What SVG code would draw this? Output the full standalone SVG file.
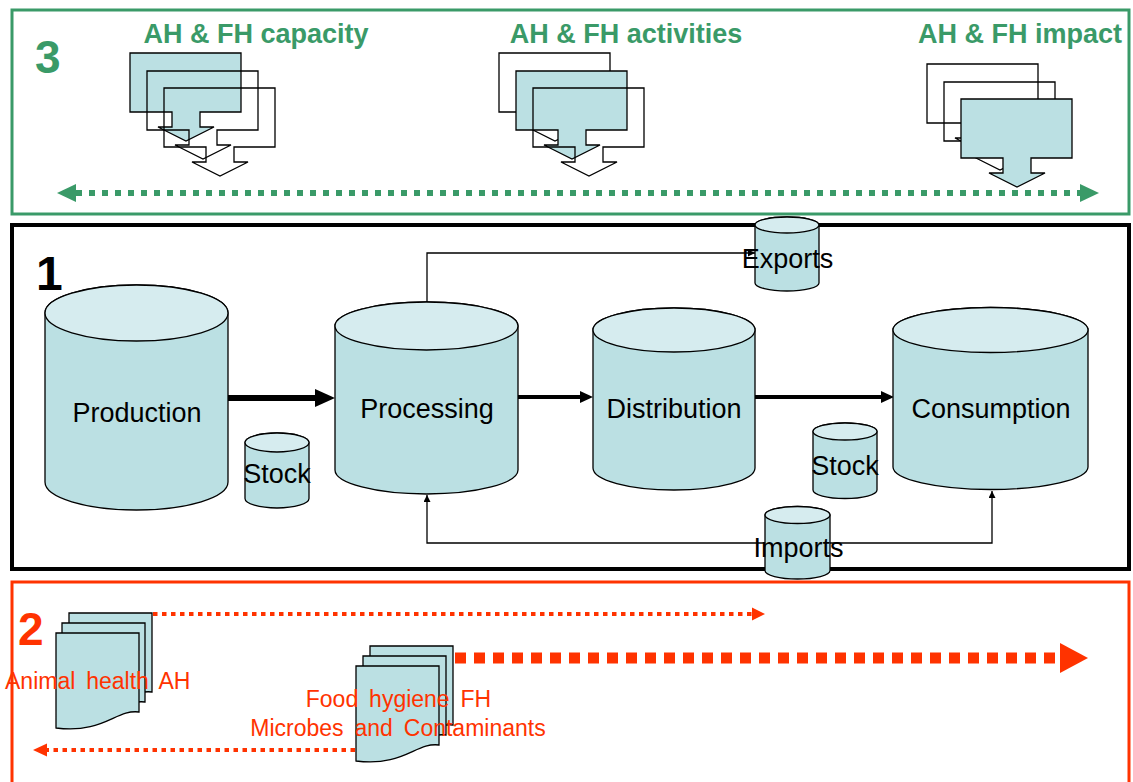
<svg xmlns="http://www.w3.org/2000/svg" width="1133" height="782" viewBox="0 0 1133 782">
<defs>
<style>
.lbl{font-family:"Liberation Sans",Arial,sans-serif;font-size:27px;fill:#000;text-anchor:middle}
.gt{font-family:"Liberation Sans",Arial,sans-serif;font-size:27px;font-weight:bold;fill:#3A9A68;text-anchor:middle}
.rt{font-family:"Liberation Sans",Arial,sans-serif;font-size:23px;fill:#FF3300;word-spacing:4.5px}
.num{font-family:"Liberation Sans",Arial,sans-serif;font-weight:bold;font-size:46px}
.body{fill:#BBE0E3;stroke:#000;stroke-width:1.3}
.top{fill:#D6ECEF;stroke:#000;stroke-width:1.3}
.co{stroke:#000;stroke-width:1.3;fill:none}
.cof{stroke:#000;stroke-width:1.3;fill:#BBE0E3}
.doc{fill:#BBE0E3;stroke:#000;stroke-width:1.3}
.thin{fill:none;stroke:#000;stroke-width:1.3}
</style>
<path id="callout" d="M0,0 H111 V59 H70 V74 H84 L56,88 L28,74 H42 V59 H0 Z"/>
<path id="page" d="M0,0 H83 V79 C60,76 48,101 0,95 Z"/>
<marker id="sm" viewBox="0 0 10 10" refX="10" refY="5" markerWidth="7" markerHeight="7" markerUnits="userSpaceOnUse" orient="auto-start-reverse">
<path d="M0,0 L10,5 L0,10 Z" fill="#000"/>
</marker>
</defs>

<!-- Frames -->
<g id="frame3">
<rect x="12" y="10" width="1117" height="204" fill="none" stroke="#3A9A68" stroke-width="3"/>
<text class="num" x="35" y="73" fill="#3A9A68">3</text>
</g>
<g id="frame1">
<rect x="12" y="225" width="1117" height="344" fill="none" stroke="#000" stroke-width="4"/>
<text class="num" x="36" y="290" fill="#000" style="font-size:48px">1</text>
</g>
<g id="frame2">
<rect x="12" y="582" width="1117" height="230" fill="none" stroke="#FF3300" stroke-width="3"/>
<text class="num" x="18" y="645" fill="#FF3300">2</text>
</g>

<!-- Section 3 -->
<g id="capacity">
<text class="gt" x="256" y="43">AH &amp; FH capacity</text>
<use href="#callout" class="cof" x="130" y="53"/>
<use href="#callout" class="co" x="147" y="71"/>
<use href="#callout" class="co" x="164" y="88"/>
</g>
<g id="activities">
<text class="gt" x="626" y="43">AH &amp; FH activities</text>
<use href="#callout" class="co" x="499" y="53"/>
<use href="#callout" class="cof" x="516" y="71"/>
<use href="#callout" class="co" x="533" y="88"/>
</g>
<g id="impact">
<text class="gt" x="1020" y="43">AH &amp; FH impact</text>
<use href="#callout" class="co" x="927" y="64"/>
<use href="#callout" class="co" x="944" y="82"/>
<use href="#callout" class="cof" x="961" y="99"/>
</g>

<!-- Connectors -->
<g id="connectors">
<line x1="76" y1="193" x2="1080" y2="193" stroke="#3A9A68" stroke-width="6" stroke-dasharray="6 7"/>
<polygon points="57,193 76,184 76,202" fill="#3A9A68"/>
<polygon points="1099,193 1080,184 1080,202" fill="#3A9A68"/>

<line x1="228" y1="398" x2="316" y2="398" stroke="#000" stroke-width="6"/>
<polygon points="315,389 335,398 315,407" fill="#000"/>
<line x1="518" y1="397" x2="581" y2="397" stroke="#000" stroke-width="4"/>
<polygon points="580,391 593,397 580,403" fill="#000"/>
<line x1="755" y1="397" x2="882" y2="397" stroke="#000" stroke-width="4"/>
<polygon points="881,391 894,397 881,403" fill="#000"/>

<polyline class="thin" points="427,302 427,253 755,253" marker-end="url(#sm)"/>
<polyline class="thin" points="427,495 427,543 992,543 992,491" marker-start="url(#sm)" marker-end="url(#sm)"/>

<line x1="153" y1="614" x2="752" y2="614" stroke="#FF3300" stroke-width="4" stroke-dasharray="4.5 4.5"/>
<polygon points="752,607.5 765,614 752,620.5" fill="#FF3300"/>
<line x1="455" y1="658" x2="1060" y2="658" stroke="#FF3300" stroke-width="11" stroke-dasharray="11 8"/>
<polygon points="1060,643 1088,658 1060,673" fill="#FF3300"/>
<line x1="355" y1="750" x2="47" y2="750" stroke="#FF3300" stroke-width="4" stroke-dasharray="4.5 4.5"/>
<polygon points="47,743.5 33,750 47,756.5" fill="#FF3300"/>
</g>

<!-- Section 1 nodes -->
<g id="production">
<path class="body" d="M45,313 A91.5,28 0 0 1 228,313 V482 A91.5,28 0 0 1 45,482 Z"/>
<ellipse class="top" cx="136.5" cy="313" rx="91.5" ry="28"/>
<text class="lbl" x="137" y="422">Production</text>
</g>
<g id="stock1">
<path class="body" d="M245,442.5 A32,9.5 0 0 1 309,442.5 V498.5 A32,9.5 0 0 1 245,498.5 Z"/>
<ellipse class="top" cx="277" cy="442.5" rx="32" ry="9.5"/>
<text class="lbl" x="277" y="483">Stock</text>
</g>
<g id="processing">
<path class="body" d="M335,326 A91.5,24 0 0 1 518,326 V470 A91.5,24 0 0 1 335,470 Z"/>
<ellipse class="top" cx="426.5" cy="326" rx="91.5" ry="24"/>
<text class="lbl" x="427" y="418">Processing</text>
</g>
<g id="distribution">
<path class="body" d="M593,330 A81,22 0 0 1 755,330 V468 A81,22 0 0 1 593,468 Z"/>
<ellipse class="top" cx="674" cy="330" rx="81" ry="22"/>
<text class="lbl" x="674" y="418">Distribution</text>
</g>
<g id="consumption">
<path class="body" d="M893,330 A97.5,22.5 0 0 1 1088,330 V467 A97.5,22.5 0 0 1 893,467 Z"/>
<ellipse class="top" cx="990.5" cy="330" rx="97.5" ry="22.5"/>
<text class="lbl" x="991" y="418">Consumption</text>
</g>
<g id="stock2">
<path class="body" d="M813,431.5 A32,8.5 0 0 1 877,431.5 V490 A32,8.5 0 0 1 813,490 Z"/>
<ellipse class="top" cx="845" cy="431.5" rx="32" ry="8.5"/>
<text class="lbl" x="845" y="475">Stock</text>
</g>
<g id="exports">
<path class="body" d="M755,225 A32,8 0 0 1 819,225 V283 A32,8 0 0 1 755,283 Z"/>
<ellipse class="top" cx="787" cy="225" rx="32" ry="8"/>
<text class="lbl" x="787.5" y="268">Exports</text>
</g>
<g id="imports">
<path class="body" d="M765,515 A32.5,8.5 0 0 1 830,515 V570.5 A32.5,8.5 0 0 1 765,570.5 Z"/>
<ellipse class="top" cx="797.5" cy="515" rx="32.5" ry="8.5"/>
<text class="lbl" x="798.5" y="557">Imports</text>
</g>

<!-- Section 2 nodes -->
<g id="animal-health">
<use href="#page" class="doc" x="69" y="613"/>
<use href="#page" class="doc" x="62" y="623"/>
<use href="#page" class="doc" x="56" y="633"/>
<text class="rt" x="5" y="689">Animal health AH</text>
</g>
<g id="food-hygiene">
<use href="#page" class="doc" x="370" y="646"/>
<use href="#page" class="doc" x="363" y="656"/>
<use href="#page" class="doc" x="356" y="666"/>
<text class="rt" x="398.5" y="707" text-anchor="middle">Food hygiene FH</text>
<text class="rt" x="398" y="736" text-anchor="middle">Microbes and Contaminants</text>
</g>
</svg>
